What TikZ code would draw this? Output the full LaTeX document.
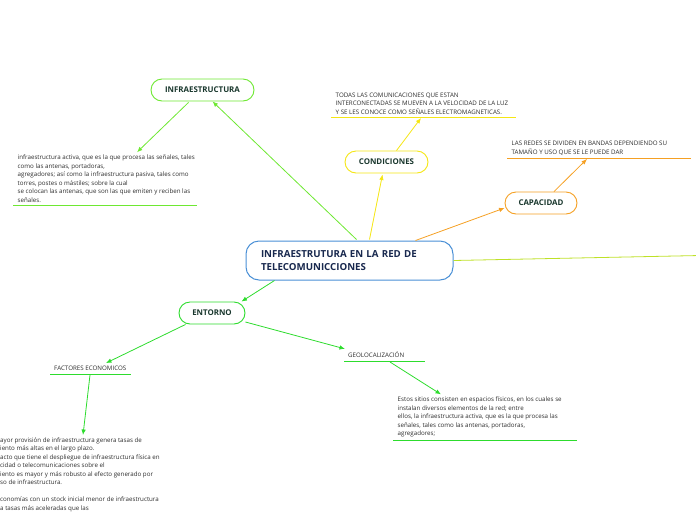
\documentclass[tikz,border=0pt]{standalone}
\usepackage{fontspec}
\setmainfont{Open Sans}
\usetikzlibrary{
  arrows.meta,
  positioning,
  calc
}
\definecolor{hubblue}{RGB}{74,144,214}
\definecolor{hubnavy}{RGB}{24,40,78}
\definecolor{infragreen}{RGB}{110,232,50}
\definecolor{entgreen}{RGB}{45,220,45}
\definecolor{condyellow}{RGB}{245,230,20}
\definecolor{capaorange}{RGB}{245,160,35}
\definecolor{sidelime}{RGB}{190,225,40}
\definecolor{labelink}{RGB}{25,55,45}
\definecolor{noteink}{RGB}{45,45,45}
\tikzset{
  hubbox/.style={
    draw=hubblue,
    line width=1pt,
    fill=white,
    rounded corners=13pt,
    align=left,
    text width=177pt,
    inner xsep=15pt,
    minimum height=39pt,
    font=\fontsize{9.7}{13}\selectfont\bfseries,
    text=hubnavy
  },
  topicbox/.style={
    draw,
    line width=0.9pt,
    fill=white,
    rounded corners=11pt,
    minimum height=22pt,
    inner xsep=0pt,
    font=\fontsize{7.9}{9}\selectfont\bfseries,
    text=labelink
  },
  notetext/.style={align=left,inner xsep=4.5pt,inner ysep=2.5pt,font=\fontsize{6.2}{8.5}\selectfont,text=noteink},
  tagtext/.style={inner xsep=4pt,inner ysep=3pt,font=\fontsize{6.2}{7}\selectfont,text=noteink},
  linkarrow/.style={-{Latex[length=5.5pt,width=4.5pt]},line width=0.8pt},
  underrule/.style={line width=1pt}
}

\begin{document}
\begin{tikzpicture}[x=1pt,y=-1pt]
  \useasboundingbox (0,0) rectangle (696,520);
  \clip (0,0) rectangle (696,520);

  % main topic and branches
  \node[hubbox] (hub) at (349.5,260.5) {INFRAESTRUTURA EN LA RED DE\\TELECOMUNICCIONES};
  \node[topicbox,draw=infragreen,minimum width=103pt] (infra) at (202.5,90) {INFRAESTRUCTURA};
  \node[topicbox,draw=condyellow,minimum width=83pt] (cond) at (386.5,162) {CONDICIONES};
  \node[topicbox,draw=capaorange,minimum width=72pt] (capa) at (541,203) {CAPACIDAD};
  \node[topicbox,draw=entgreen,minimum width=66pt] (ento) at (212,313) {ENTORNO};

  % notes
  \node[notetext,anchor=south west] (infranote) at (13,205) {
    infraestructura activa, que es la que procesa las señales, tales\\
    como las antenas, portadoras,\\
    agregadores; así como la infraestructura pasiva, tales como\\
    torres, postes o mástiles; sobre la cual\\
    se colocan las antenas, que son las que emiten y reciben las\\
    señales.
  };
  \node[notetext,anchor=south west] (condnote) at (331,117) {
    TODAS LAS COMUNICACIONES QUE ESTAN\\
    INTERCONECTADAS SE MUEVEN A LA VELOCIDAD DE LA LUZ\\
    Y SE LES CONOCE COMO SEÑALES ELECTROMAGNETICAS.
  };
  \node[notetext,anchor=south west] (capanote) at (507,158) {
    LAS REDES SE DIVIDEN EN BANDAS DEPENDIENDO SU\\
    TAMAÑO Y USO QUE SE LE PUEDE DAR
  };
  \node[tagtext,anchor=south west] (factag) at (50,374) {FACTORES ECONOMICOS};
  \node[tagtext,anchor=south west] (geotag) at (344,361) {GEOLOCALIZACIÓN};
  \node[notetext,anchor=south west] (geonote) at (393,440) {
    Estos sitios consisten en espacios físicos, en los cuales se\\
    instalan diversos elementos de la red; entre\\
    ellos, la infraestructura activa, que es la que procesa las\\
    señales, tales como las antenas, portadoras,\\
    agregadores;
  };
  \node[notetext,anchor=north west,inner xsep=0pt] (facnote) at (0,435) {
    ayor provisión de infraestructura genera tasas de\\
    iento más altas en el largo plazo.\\
    acto que tiene el despliegue de infraestructura física en\\
    cidad o telecomunicaciones sobre el\\
    iento es mayor y más robusto al efecto generado por\\
    so de infraestructura.\\[8.5pt]
    conomías con un stock inicial menor de infraestructura\\
    a tasas más aceleradas que las
  };
  \coordinate (sideend) at (700,255.5);

  % underlines
  \draw[underrule,infragreen] (infranote.south west) -- ++(184,0);
  \draw[underrule,condyellow] (condnote.south west) -- ++(185,0);
  \draw[underrule,capaorange] (capanote.south west) -- ++(184,0);
  \draw[underrule,entgreen] (geonote.south west) -- ++(184,0);
  \draw[underrule,entgreen] (factag.south west) -- ++(81,0);
  \draw[underrule,entgreen] (geotag.south west) -- ++(81,0);

  % connectors
  \draw[linkarrow,infragreen] ($(hub.north)+(7,-1)$) -- ($(infra.south)+(10,0)$);
  \draw[linkarrow,infragreen] ($(infra.south)+(-14,1)$) -- ($(infranote.north west)+(124,0)$);
  \draw[linkarrow,condyellow] ($(hub.north)+(20,-1)$) -- ($(cond.south)+(-4,1)$);
  \draw[linkarrow,condyellow] ($(cond.north)+(10,0)$) -- ($(condnote.south west)+(90,1)$);
  \draw[linkarrow,capaorange] ($(hub.north east)+(-38,0)$) -- ($(capa.west)+(0,5)$);
  \draw[linkarrow,capaorange] ($(capa.north)+(13,0)$) -- ($(capanote.south west)+(80,1)$);
  \draw[line width=0.8pt,sidelime] (hub.east) -- (sideend);
  \draw[linkarrow,entgreen] ($(hub.south west)+(29,0)$) -- ($(ento.north east)+(-4,0)$);
  \draw[linkarrow,entgreen] ($(ento.south west)+(7,0)$) -- ($(factag.north west)+(56,0)$);
  \draw[linkarrow,entgreen] ($(ento.east)+(0,9)$) -- ($(geotag.west)+(1,-6)$);
  \draw[linkarrow,entgreen] ($(geotag.south west)+(46,1)$) -- ($(geonote.north west)+(48,0)$);
  \draw[linkarrow,entgreen] ($(factag.south west)+(40,1)$) -- ($(facnote.north west)+(83,0)$);
\end{tikzpicture}
\end{document}
